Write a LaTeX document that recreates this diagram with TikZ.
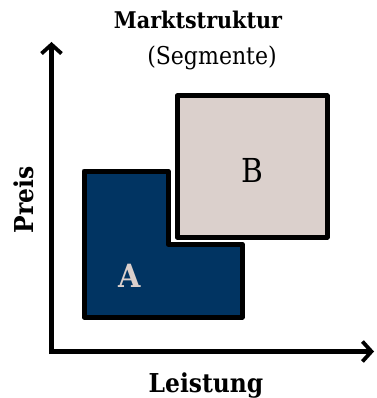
\documentclass[tikz,border=0pt]{standalone}
\usepackage{fontspec}
\setmainfont{DejaVu Serif Condensed}
\usetikzlibrary{arrows.meta}
\definecolor{navy}{HTML}{013462}
\definecolor{beige}{HTML}{DBD0CC}
\tikzset{
  axis/.style={line width=5pt, -{Straight Barb[length=9pt,width=20pt,line width=3.8pt]}},
  region/.style={line width=5pt, draw=black, line join=round},
  lbl/.style={inner sep=0pt, anchor=base},
}
\begin{document}
\begin{tikzpicture}[x=1pt,y=-1pt]
\useasboundingbox (0,0) rectangle (376,398);
\coordinate (Ybot) at (51.5,354);
\coordinate (Ytop) at (51.5,42);
\coordinate (Xbeg) at (49,351.5);
\coordinate (Xend) at (374,351.5);
\draw[axis] (Ybot) -- (Ytop);
\draw[axis] (Xbeg) -- (Xend);
% region B
\filldraw[region, fill=beige] (177,96) rectangle (327,237);
% region A (L-shape)
\filldraw[region, fill=navy] (84,171) -- (168,171) -- (168,244) -- (242,244) -- (242,317) -- (84,317) -- cycle;
\node[lbl, text=beige, font=\bfseries\fontsize{32}{36}\selectfont] (A) at (130,287) {A};
\node[lbl, font=\fontsize{33}{36}\selectfont] (B) at (252,182) {B};
\node[lbl, font=\bfseries\fontsize{23}{26}\selectfont] (title) at (198,29) {Marktstruktur};
\node[lbl, font=\fontsize{24.5}{28}\selectfont] (sub) at (212,65) {(Segmente)};
\node[lbl, rotate=90, font=\bfseries\fontsize{26}{30}\selectfont] (preis) at (33,200) {Preis};
\node[lbl, font=\bfseries\fontsize{26}{30}\selectfont] (leist) at (206,392) {Leistung};
\end{tikzpicture}
\end{document}
